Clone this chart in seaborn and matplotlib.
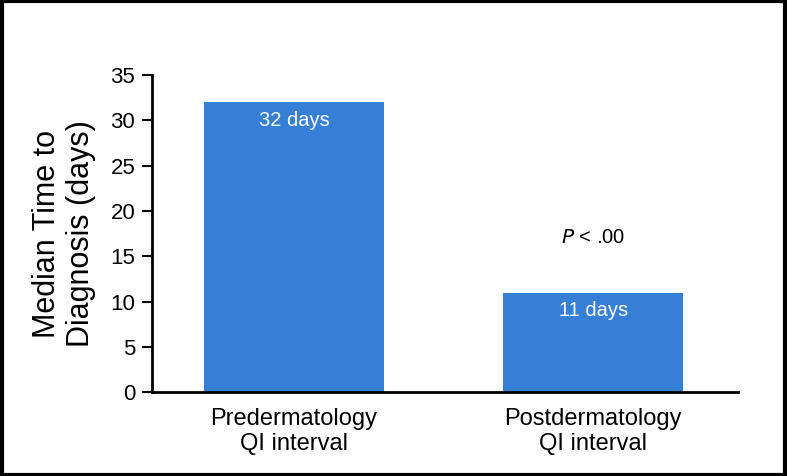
import pandas as pd
import matplotlib.pyplot as plt
import seaborn as sns
from matplotlib.patches import Rectangle

# Data

periods = ["Predermatology\nQI interval", "Postdermatology\nQI interval"]
median_days = [32, 11]
bar_labels = ["32 days", "11 days"]
y_ticks = [0, 5, 10, 15, 20, 25, 30, 35]

df = pd.DataFrame({
    "Period": periods,
    "Days": median_days
})

sns.set_style("ticks")
plt.rcParams["font.family"] = ["Liberation Sans", "DejaVu Sans"]
plt.rcParams["text.color"] = "black"
plt.rcParams["axes.labelcolor"] = "black"
plt.rcParams["xtick.color"] = "black"
plt.rcParams["ytick.color"] = "black"

fig = plt.figure(figsize=(7.87, 4.76), dpi=100)
ax = fig.add_axes([0.193, 0.176, 0.745, 0.666])

sns.barplot(
    data=df,
    x="Period",
    y="Days",
    color="#3580d6",
    saturation=1,
    width=0.6,
    linewidth=0,
    ax=ax
)

for i, (v, lab) in enumerate(zip(median_days, bar_labels)):
    ax.text(i, v - 0.9, lab, ha="center", va="top",
            color="white", fontsize=14.5)

ax.text(1, 17.1, "$P$ < .00", ha="center", va="center",
        fontsize=14.5, color="black")

ax.set_ylim(0, 35)
ax.set_xlim(-0.475, 1.485)
ax.set_yticks(y_ticks)
ax.set_yticklabels([str(t) for t in y_ticks], fontsize=16)
ax.tick_params(axis="y", length=7, width=1.5, direction="out", pad=5)
ax.tick_params(axis="x", length=0, labelsize=17, pad=11)

ax.set_xlabel("")
ax.set_ylabel("Median Time to\nDiagnosis (days)", fontsize=22, labelpad=10)

sns.despine(ax=ax)
ax.spines["left"].set_linewidth(2)
ax.spines["bottom"].set_linewidth(2)
ax.spines["left"].set_color("black")
ax.spines["bottom"].set_color("black")

# outer frame
fig.patches.append(Rectangle((0.002, 0.003), 0.996, 0.994,
                             transform=fig.transFigure, fill=False,
                             edgecolor="black", linewidth=3))

plt.savefig("out.png", dpi=100)
